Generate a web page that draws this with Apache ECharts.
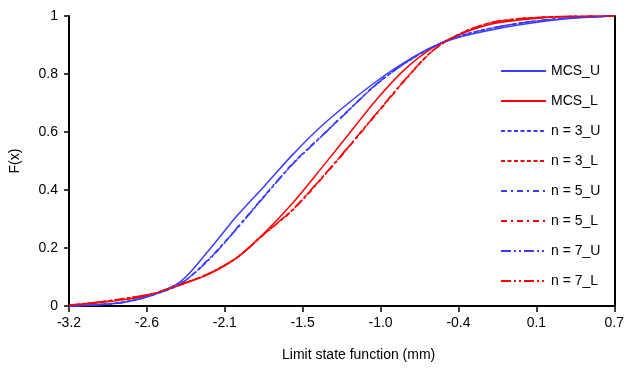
<!DOCTYPE html>
<html>
<head>
<meta charset="utf-8">
<script src="https://cdn.jsdelivr.net/npm/echarts@6/dist/echarts.min.js"></script>
<style>html,body{margin:0;padding:0;background:#fff}#c{width:627px;height:370px}</style>
</head>
<body>
<div id="c"></div>
<script>
var xs   = [-3.2, -3.0, -2.8, -2.6, -2.4, -2.2, -2.0, -1.8, -1.6, -1.4, -1.2, -1.0, -0.8, -0.6, -0.4, -0.2, 0.0, 0.2, 0.4, 0.7];
var mcsU = [0.000, 0.004, 0.014, 0.039, 0.085, 0.192, 0.310, 0.415, 0.522, 0.618, 0.700, 0.775, 0.840, 0.893, 0.928, 0.950, 0.968, 0.982, 0.992, 1.000];
var mcsL = [0.002, 0.010, 0.022, 0.040, 0.073, 0.110, 0.166, 0.253, 0.355, 0.472, 0.592, 0.712, 0.815, 0.890, 0.937, 0.970, 0.985, 0.994, 0.998, 1.000];
var n3U  = [0.000, 0.004, 0.014, 0.038, 0.077, 0.160, 0.267, 0.380, 0.490, 0.582, 0.675, 0.765, 0.836, 0.893, 0.932, 0.956, 0.974, 0.986, 0.994, 1.000];
var n3L  = [0.003, 0.013, 0.026, 0.043, 0.075, 0.112, 0.167, 0.250, 0.332, 0.437, 0.549, 0.664, 0.778, 0.880, 0.940, 0.975, 0.990, 0.996, 0.999, 1.000];
var n5U  = [0.000, 0.004, 0.014, 0.039, 0.078, 0.162, 0.269, 0.382, 0.492, 0.584, 0.676, 0.766, 0.837, 0.893, 0.931, 0.955, 0.973, 0.986, 0.994, 1.000];
var n5L  = [0.003, 0.012, 0.025, 0.042, 0.074, 0.111, 0.166, 0.249, 0.330, 0.435, 0.547, 0.662, 0.776, 0.879, 0.939, 0.974, 0.989, 0.996, 0.999, 1.000];
var n7U  = [0.000, 0.004, 0.013, 0.038, 0.077, 0.159, 0.266, 0.379, 0.489, 0.582, 0.674, 0.765, 0.836, 0.893, 0.932, 0.956, 0.974, 0.986, 0.994, 1.000];
var n7L  = [0.003, 0.013, 0.026, 0.043, 0.075, 0.112, 0.167, 0.250, 0.333, 0.438, 0.550, 0.665, 0.779, 0.880, 0.940, 0.975, 0.990, 0.996, 0.999, 1.000];
var xTickLabels = ['-3.2', '-2.6', '-2.1', '-1.5', '-1.0', '-0.4', '0.1', '0.7'];

var BLUE = '#3c3cff', RED = '#ff0000';
function pts(ys){ return xs.map(function(x,i){ return [x, ys[i]]; }); }
function mk(name, ys, color, type){
  return {
    name: name, type: 'line', xAxisIndex: 0, yAxisIndex: 0,
    data: pts(ys), smooth: 0.3, symbol: 'none', showSymbol: false,
    lineStyle: { color: color, width: 1.5, type: type },
    itemStyle: { color: color },
    emphasis: { disabled: true }, z: 3
  };
}
var series = [
  mk('MCS_U', mcsU, BLUE, 'solid'),
  mk('MCS_L', mcsL, RED, 'solid'),
  mk('n = 3_U', n3U, BLUE, [4, 2.5]),
  mk('n = 3_L', n3L, RED, [4, 2.5]),
  mk('n = 5_U', n5U, BLUE, [6, 4, 2, 4]),
  mk('n = 5_L', n5L, RED, [6, 4, 2, 4]),
  mk('n = 7_U', n7U, BLUE, [10, 3, 2, 3, 2, 3]),
  mk('n = 7_L', n7L, RED, [10, 3, 2, 3, 2, 3])
];

var font = 'Liberation Sans, Arial, sans-serif';
var chart = echarts.init(document.getElementById('c'), null, { renderer: 'canvas' });
chart.setOption({
  animation: false,
  backgroundColor: '#fff',
  grid: { left: 67, right: 10, top: 16, bottom: 64, containLabel: false },
  legend: {
    orient: 'vertical', left: 495, top: 59,
    itemWidth: 45, itemHeight: 14, itemGap: 16,
    itemStyle: { opacity: 0, borderWidth: 0 },
    textStyle: { fontSize: 14, color: '#000', fontFamily: font },
    data: series.map(function(s){ return s.name; })
  },
  xAxis: [
    { type: 'value', position: 'top', min: -3.2, max: 0.7,
      axisLine: { show: true, lineStyle: { color: '#000', width: 2 } },
      axisTick: { show: false }, axisLabel: { show: false }, splitLine: { show: false } },
    { type: 'value', position: 'bottom', min: 0, max: 7, interval: 1,
      name: 'Limit state function (mm)', nameLocation: 'middle', nameGap: 42,
      nameTextStyle: { fontSize: 14, color: '#000', fontFamily: font, padding: [0, 0, 0, 34] },
      axisLine: { show: true, onZero: false, lineStyle: { color: '#000', width: 2 } },
      axisTick: { show: true, inside: false, length: 6, lineStyle: { color: '#000', width: 1.5 } },
      axisLabel: { fontSize: 14, color: '#000', fontFamily: font, margin: 10,
        formatter: function(v){ return xTickLabels[Math.round(v)]; } },
      splitLine: { show: false } }
  ],
  yAxis: [
    { type: 'value', position: 'left', min: 0, max: 1, interval: 0.2,
      name: 'F(x)', nameLocation: 'middle', nameGap: 47, nameRotate: 90,
      nameTextStyle: { fontSize: 14, color: '#000', fontFamily: font },
      axisLine: { show: true, onZero: false, lineStyle: { color: '#000', width: 2 } },
      axisTick: { show: true, inside: false, length: 5, lineStyle: { color: '#000', width: 1.5 } },
      axisLabel: { fontSize: 14, color: '#000', fontFamily: font, margin: 11 },
      splitLine: { show: false } },
    { type: 'value', position: 'right', min: 0, max: 1,
      axisLine: { show: true, onZero: false, lineStyle: { color: '#000', width: 2 } },
      axisTick: { show: false }, axisLabel: { show: false }, splitLine: { show: false } }
  ],
  series: series
});
</script>
</body>
</html>
